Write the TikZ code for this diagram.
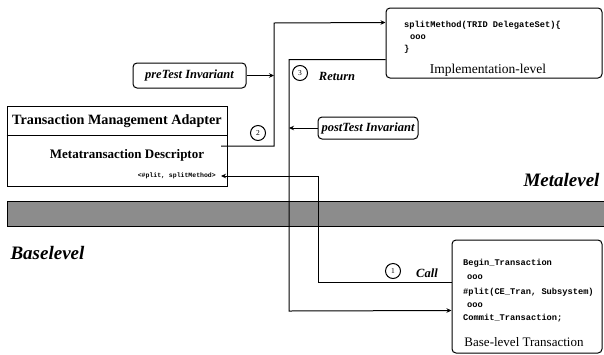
\documentclass[tikz,border=0pt]{standalone}
\usepackage{fontspec}
\setmainfont{Liberation Serif}
\setmonofont{Liberation Mono}
\usetikzlibrary{arrows.meta,calc}

\tikzset{
  rbox/.style={draw, rounded corners=4pt, line width=1pt, inner sep=0pt},
  lbl/.style={font=\bfseries\itshape\fontsize{12.5}{14}\selectfont},
  level/.style={font=\bfseries\itshape\fontsize{19}{22}\selectfont},
  code/.style={font=\ttfamily\bfseries\fontsize{8.7}{10}\selectfont, anchor=west, inner sep=0pt},
  num/.style={draw, circle, line width=1pt, minimum size=15pt, inner sep=0pt, font=\fontsize{7.5}{8}\selectfont},
  conn/.style={line width=1pt},
  tip/.style={-{Stealth[length=5pt,width=4.5pt]}},
}

\begin{document}
\begin{tikzpicture}[x=1pt,y=-1pt]
	\useasboundingbox (0,0) rectangle (604,354);
	
	%%%%% bar between the levels %%%%%
	\draw[fill=black!45, line width=1pt] (7,201) rectangle (610,226);
	\node[level, anchor=east] (meta) at (603,180) {Metalevel};
	\node[level, anchor=west] (basel) at (7,253) {Baselevel};
	
	%%%%% adapter %%%%%
	\node[draw, line width=1pt, minimum width=220pt, minimum height=80pt, inner sep=0pt] (tma) at (117,146) {};
	\draw[line width=1pt] ($(tma.north west)+(0,30)$) -- ($(tma.north east)+(0,30)$);
	\node[font=\bfseries\fontsize{14.2}{16}\selectfont] (title) at (117,121) {Transaction Management Adapter};
	\node[font=\bfseries\fontsize{13}{15}\selectfont] (desc) at (127,155) {Metatransaction Descriptor};
	\node[code, font=\ttfamily\bfseries\fontsize{6.5}{8}\selectfont, anchor=east] (entry) at (216,176) {<\#plit, splitMethod>};
	\coordinate (descout) at (221,146);
	\coordinate (descin) at (221,176);
	
	%%%%% implementation level %%%%%
	\node[rbox, minimum width=216pt, minimum height=70pt] (impl) at (494,43) {};
	\node[code] (m1) at (404,25) {splitMethod(TRID DelegateSet)\{};
	\node[code] (m2) at (410,37) {ooo};
	\node[code] (m3) at (404,49) {\}};
	\node[font=\fontsize{13.5}{15}\selectfont] (implname) at (488,70) {Implementation-level};
	\coordinate (implin) at ($(impl.north west)+(0,15)$);
	\coordinate (implout) at ($(impl.north west)+(0,52)$);
	
	%%%%% base level %%%%%
	\node[rbox, minimum width=150pt, minimum height=113pt] (base) at (527,296.5) {};
	\node[code] (b1) at (463,263) {Begin\_Transaction};
	\node[code] (b2) at (467,277) {ooo};
	\node[code] (b3) at (463,292) {\#plit(CE\_Tran, Subsystem)};
	\node[code] (b4) at (467,305) {ooo};
	\node[code] (b5) at (463,318) {Commit\_Transaction;};
	\node[font=\fontsize{13}{15}\selectfont] (basename) at (524,342) {Base-level Transaction};
	\coordinate (callend) at ($(base.north west)+(0,43)$);
	\coordinate (retend) at ($(base.north west)+(0,71)$);
	
	%%%%% invariants %%%%%
	\node[rbox, lbl, minimum width=113pt, minimum height=25pt] (pre) at (189.5,75.5) {preTest Invariant};
	\node[rbox, lbl, minimum width=100pt, minimum height=22pt] (post) at (368,128) {postTest Invariant};
	
	%%%%% connectors %%%%%
	\draw[conn, tip] (callend) -| (318,176) -- (descin);
	\draw[conn, tip] (descout) -| (274,23) -- (implin);
	\draw[conn, tip] (implout) -| (289,311) -- (retend);
	\draw[conn, tip] (pre.east) -- (274,75.5);
	\draw[conn, tip] (post.west) -- (289,128);
	
	%%%%% steps %%%%%
	\node[num] (n1) at (393,271) {1};
	\node[lbl] (call) at (427,273) {Call};
	\node[num] (n2) at (258,133) {2};
	\node[num] (n3) at (300,73) {3};
	\node[lbl] (ret) at (337,76) {Return};
\end{tikzpicture}
\end{document}
